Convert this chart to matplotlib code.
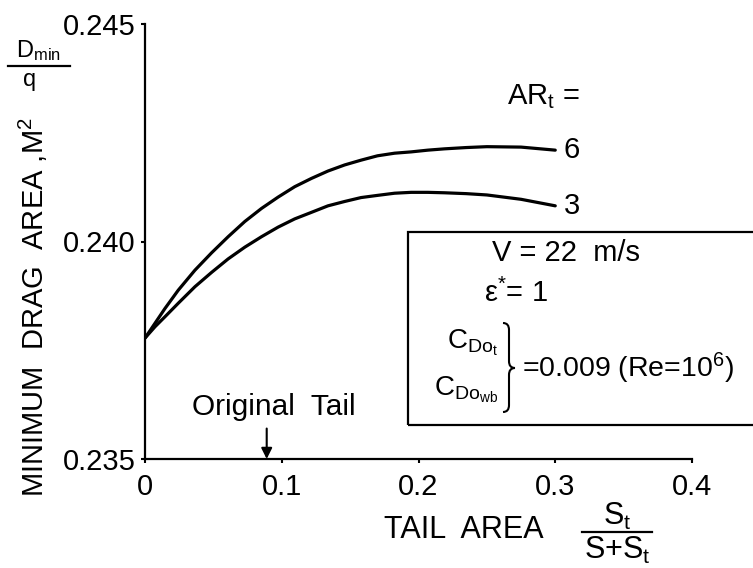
import matplotlib
matplotlib.use("Agg")
import matplotlib.pyplot as plt
from matplotlib.patches import Rectangle, PathPatch
from matplotlib.path import Path

plt.rcParams['font.family'] = ['Liberation Sans', 'DejaVu Sans']
plt.rcParams['mathtext.default'] = 'regular'

# ---- data ----
tail_area = [0.0, 0.0073, 0.0146, 0.0243, 0.0365, 0.0487, 0.0608, 0.073, 0.0852, 0.0973,
             0.1095, 0.1217, 0.1338, 0.146, 0.158, 0.170, 0.1825, 0.1946, 0.2068, 0.219,
             0.235, 0.25, 0.275, 0.3]
drag_ar6 = [0.23778, 0.23812, 0.23846, 0.23888, 0.23934, 0.23974, 0.24011, 0.24046, 0.24076,
            0.24102, 0.24126, 0.24145, 0.24162, 0.24176, 0.24187, 0.24197, 0.24203, 0.24206,
            0.24210, 0.24213, 0.24216, 0.24218, 0.24217, 0.24210]
drag_ar3 = [0.23778, 0.23804, 0.23827, 0.23858, 0.23896, 0.23929, 0.23960, 0.23987, 0.24011,
            0.24033, 0.24052, 0.24067, 0.24082, 0.24092, 0.24101, 0.24106, 0.24111, 0.24113,
            0.24113, 0.24112, 0.24110, 0.24107, 0.24097, 0.24082]
curve_labels = ["6", "3"]
x_ticks = [0.0, 0.1, 0.2, 0.3, 0.4]
x_ticklabels = ["0", "0.1", "0.2", "0.3", "0.4"]
y_ticks = [0.235, 0.240, 0.245]
y_ticklabels = ["0.235", "0.240", "0.245"]
original_tail = 0.089

W, H = 753, 568
def fx(x):
    return x / W
def fy(y):
    return 1 - y / H

fig = plt.figure(figsize=(W / 100, H / 100), dpi=100)
ax = fig.add_axes([fx(145), fy(459), fx(692) - fx(145), fy(24) - fy(459)])

ax.plot(tail_area, drag_ar6, color='black', lw=2.3, solid_capstyle='round', solid_joinstyle='round')
ax.plot(tail_area, drag_ar3, color='black', lw=2.3, solid_capstyle='round', solid_joinstyle='round')

ax.set_xlim(0, 0.4)
ax.set_ylim(0.235, 0.245)
ax.set_xticks(x_ticks)
ax.set_xticklabels(x_ticklabels)
ax.set_yticks(y_ticks)
ax.set_yticklabels(y_ticklabels)
for s in ['top', 'right']:
    ax.spines[s].set_visible(False)
for s in ['left', 'bottom']:
    ax.spines[s].set_linewidth(1.6)
ax.tick_params(axis='both', direction='out', length=3, width=1.5, labelsize=21, colors='black')
ax.tick_params(axis='x', pad=7)
ax.tick_params(axis='y', pad=4)
ax.patch.set_visible(False)

# curve labels
ax.text(0.306, drag_ar6[-1], curve_labels[0], fontsize=21, va='center', ha='left')
ax.text(0.306, drag_ar3[-1], curve_labels[1], fontsize=21, va='center', ha='left')
fig.text(fx(543), fy(97), "AR$_t$ =", fontsize=21, ha='center', va='center')

# original tail arrow
ax.annotate("", xy=(original_tail, 0.235), xytext=(original_tail, 0.2357),
            arrowprops=dict(arrowstyle='-|>', color='black', lw=1.5, mutation_scale=16,
                            shrinkA=0, shrinkB=0))
fig.text(fx(274), fy(407), "Original  Tail", fontsize=21.5, ha='center', va='center')

# axis labels
fig.text(fx(33), fy(307), "MINIMUM  DRAG  AREA ,M$^2$", rotation=90, fontsize=21,
         ha='center', va='center')
fig.text(fx(38), fy(51), "D$_{min}$", fontsize=17, ha='center', va='center')
fig.add_artist(plt.Line2D([fx(8), fx(70)], [fy(66), fy(66)], color='black', lw=1.6))
fig.text(fx(30), fy(80), "q", fontsize=17, ha='center', va='center')

fig.text(fx(464), fy(530), "TAIL  AREA", fontsize=22, ha='center', va='center')
fig.text(fx(617), fy(516), "S$_t$", fontsize=22, ha='center', va='center')
fig.add_artist(plt.Line2D([fx(582), fx(652)], [fy(532), fy(532)], color='black', lw=1.6))
fig.text(fx(617), fy(550), "S+S$_t$", fontsize=22, ha='center', va='center')

# info box
box = Rectangle((fx(408), fy(425)), fx(770) - fx(408), fy(232) - fy(425),
                transform=fig.transFigure, fill=False, lw=1.6, edgecolor='black',
                clip_on=False)
fig.add_artist(box)
fig.text(fx(566), fy(253), "V = 22  m/s", fontsize=21, ha='center', va='center')
fig.text(fx(516), fy(293), "ε$^{*}$= 1", fontsize=21, ha='center', va='center')
fig.text(fx(498), fy(343), "C$_{Do_t}$", fontsize=20, ha='right', va='center')
fig.text(fx(498), fy(390), "C$_{Do_{wb}}$", fontsize=20, ha='right', va='center')
fig.text(fx(522), fy(368), "=0.009 (Re=10$^6$)", fontsize=20.5, ha='left', va='center')

# curly brace
x0, x1, xm = fx(503), fx(509), fx(515)
yt, yb, ym = fy(323), fy(412), fy(368)
d = 0.012
verts = [(x0, yt), (x1, yt), (x1, yt - d), (x1, ym + d), (x1, ym), (xm, ym),
         (xm, ym), (x1, ym), (x1, ym - d), (x1, yb + d), (x1, yb), (x0, yb)]
codes = [Path.MOVETO, Path.CURVE3, Path.CURVE3, Path.LINETO, Path.CURVE3, Path.CURVE3,
         Path.MOVETO, Path.CURVE3, Path.CURVE3, Path.LINETO, Path.CURVE3, Path.CURVE3]
brace = PathPatch(Path(verts, codes), transform=fig.transFigure, fill=False,
                  lw=1.5, edgecolor='black')
fig.add_artist(brace)

fig.savefig("out.png", dpi=100)
